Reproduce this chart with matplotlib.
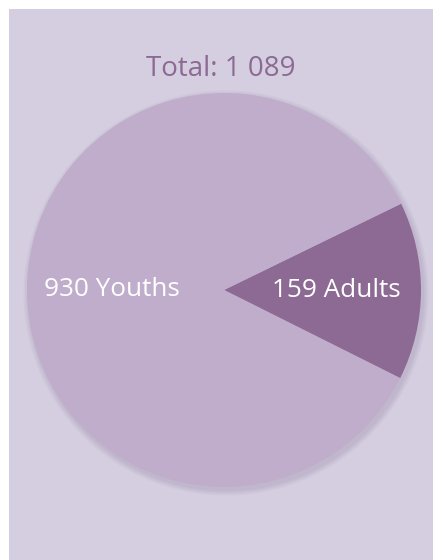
import matplotlib
matplotlib.use("Agg")
import matplotlib.pyplot as plt
from matplotlib.patches import Rectangle, Circle

categories = ["Adults", "Youths"]
values = [159, 930]
total_label = "Total: 1 089"
colors = ["#8C6A93", "#BFADCB"]

W, H = 433, 560
fig = plt.figure(figsize=(W / 100, H / 100), dpi=100, facecolor="white")
ax = fig.add_axes([0, 0, 1, 1])
ax.set_xlim(0, W)
ax.set_ylim(0, H)
ax.set_aspect("equal")
ax.axis("off")

ax.add_patch(Rectangle((9, 0), W - 9, H - 9, facecolor="#D5CEE0", edgecolor="none", zorder=0))

cx, cy, r = 224, 270, 197
# soft shadow
for i, a in enumerate([0.05, 0.05, 0.05, 0.05]):
    ax.add_patch(Circle((cx + 2, cy - 3), r + 1 + i * 1.5, facecolor="#6E5A80", alpha=a,
                        edgecolor="none", zorder=1))

labels = [f"{v} {c}" for v, c in zip(values, categories)]
span = values[0] / sum(values) * 360
wedges, texts = ax.pie(values, labels=labels, colors=colors, center=(cx, cy), radius=r,
                       startangle=-span / 2 - 0.3, counterclock=True, labeldistance=0.57,
                       wedgeprops=dict(linewidth=0, zorder=2),
                       textprops=dict(color="white", fontsize=18.8, family="Open Sans",
                                      ha="center", va="center"), frame=True)
for w in wedges:
    w.set_zorder(2)
for t in texts:
    t.set_zorder(3)
ax.set_xlim(0, W)
ax.set_ylim(0, H)
ax.axis("off")

ax.text(221, H - 69, total_label, color="#8C6A93", fontsize=20, family="Open Sans",
        ha="center", va="center", zorder=3)

fig.savefig("out.png", dpi=100, facecolor="white")
